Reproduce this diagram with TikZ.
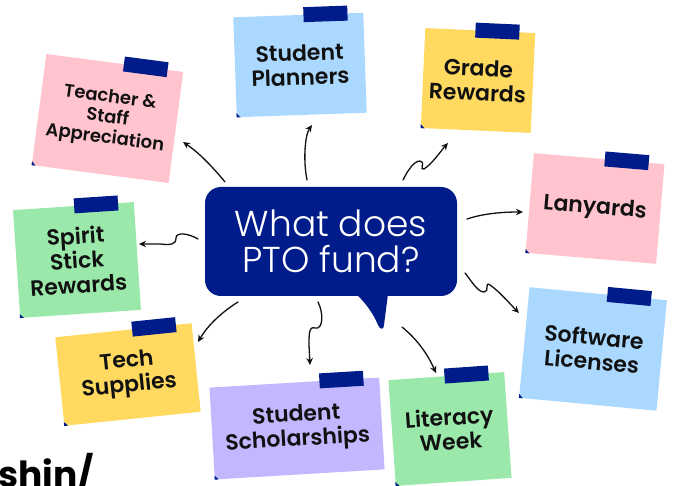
\documentclass[tikz,border=0pt]{standalone}
\usepackage{fontspec}
\setmainfont{Poppins}[UprightFont=* SemiBold, BoldFont=* Bold]
\newfontfamily\bubblefont{Poppins}[UprightFont=* Light]
\newfontfamily\heavyfont{Poppins}[UprightFont=* Bold]
\usetikzlibrary{calc,arrows.meta}
\definecolor{navy}{RGB}{0,28,138}
\definecolor{pinkN}{RGB}{255,196,206}
\definecolor{blueN}{RGB}{170,216,255}
\definecolor{yellowN}{RGB}{255,217,96}
\definecolor{greenN}{RGB}{154,233,170}
\definecolor{purpleN}{RGB}{195,183,255}
\definecolor{inkN}{RGB}{17,17,17}
\newcommand\notedecor[2]{%
  \node[tapebox, rotate=#2] (#1-tape) at ($(#1.north east)!38pt!(#1.north west)$) {};
  \fill[navy] (#1.south west) -- ($(#1.south west)!4pt!(#1.south east)$) -- ($(#1.south west)!4pt!(#1.north west)$) -- cycle;
}
\begin{document}
\begin{tikzpicture}[x=1pt,y=-1pt,
  note/.style={inner sep=0pt, align=center, text=inkN, font=\fontsize{22}{24.5}\selectfont},
  tapebox/.style={fill=navy, minimum width=44pt, minimum height=15pt, inner sep=0pt},
  arr/.style={-{Stealth[length=7pt,width=6.5pt]}, line width=1.3pt, line cap=round, draw=inkN}]
\useasboundingbox (0,0) rectangle (673,486);
\clip (0,0) rectangle (673,486);

% central bubble
\fill[navy] (356,294) .. controls (366,303) and (374,315) .. (378,325)
  .. controls (380,330) and (384,330) .. (384,325) -- (388,294) -- cycle;
\node[fill=navy, rounded corners=16pt, minimum width=252pt, minimum height=109pt,
  inner sep=0pt, text=white, align=center,
  font=\bubblefont\fontsize{36}{36}\selectfont] (bubble) at (331,241.5) {What does\\PTO fund?};

% notes
\node[note, fill=pinkN, minimum width=138pt, minimum height=112pt, rotate=-7.5,
  font=\fontsize{18}{20.5}\selectfont] (teacher) at (107.5,118.5) {Teacher \&\\Staff\\Appreciation};
\notedecor{teacher}{-7.5}
\node[note, fill=blueN, minimum width=130pt, minimum height=100pt, rotate=2] (planners) at (300,65) {Student\\Planners};
\notedecor{planners}{2}
\node[note, fill=yellowN, minimum width=110pt, minimum height=100pt, rotate=-2.6] (grade) at (478,80.5) {Grade\\Rewards};
\notedecor{grade}{-2.6}
\node[note, fill=pinkN, minimum width=131pt, minimum height=100pt, rotate=-4.8] (lanyards) at (595,208.5) {Lanyards};
\notedecor{lanyards}{-4.8}
\node[note, fill=blueN, minimum width=138pt, minimum height=111pt, rotate=-5.4] (software) at (593,349) {Software\\Licenses};
\notedecor{software}{-5.4}
\node[note, fill=greenN, minimum width=116pt, minimum height=106pt, rotate=4] (literacy) at (450,429) {Literacy\\Week};
\notedecor{literacy}{4}
\node[note, fill=purpleN, minimum width=170pt, minimum height=92pt, rotate=3.4] (scholar) at (297,428.5) {Student\\Scholarships};
\notedecor{scholar}{3.4}
\node[note, fill=yellowN, minimum width=137pt, minimum height=89pt, rotate=5.9] (tech) at (128,374.5) {Tech\\Supplies};
\notedecor{tech}{5.9}
\node[note, fill=greenN, minimum width=121pt, minimum height=108pt, rotate=3.8] (spirit) at (77,260) {Spirit\\Stick\\Rewards};
\notedecor{spirit}{3.8}

% arrow end points
\coordinate (s1) at (225,182); \coordinate (e1) at (183,142);
\coordinate (s2) at (307,180); \coordinate (e2) at (312,125);
\coordinate (s3) at (403,180); \coordinate (e3) at (448,143);
\coordinate (s4) at (467,219); \coordinate (e4) at (523,212);
\coordinate (s5) at (465,273); \coordinate (e5) at (519,313);
\coordinate (s6) at (402,327); \coordinate (e6) at (436,373);
\coordinate (s7) at (318,302); \coordinate (e7) at (310,365);
\coordinate (s8) at (238,302); \coordinate (e8) at (198,342);
\coordinate (s9) at (198,239); \coordinate (e9) at (139,244);

\draw[arr] (s1) .. controls (212,166) and (198,152) .. (e1);
\draw[arr] (s2) .. controls (303,160) and (305,135) .. (e2);
\draw[arr] (s3) .. controls (408,170) and (414,161) .. (420,161)
  .. controls (426,161) and (419,171) .. (424,169)
  .. controls (432,164) and (440,152) .. (e3);
\draw[arr] (s4) .. controls (485,213) and (505,212) .. (e4);
\draw[arr] (s5) .. controls (472,282) and (478,292) .. (484,292)
  .. controls (490,292) and (484,281) .. (490,285)
  .. controls (500,292) and (510,304) .. (e5);
\draw[arr] (s6) .. controls (418,340) and (428,355) .. (e6);
\draw[arr] (s7) .. controls (324,314) and (323,330) .. (315,328)
  .. controls (309,326) and (309,334) .. (309,345) -- (e7);
\draw[arr] (s8) .. controls (222,312) and (208,325) .. (e8);
\draw[arr] (s9) .. controls (188,233) and (176,232) .. (176,238)
  .. controls (176,245) and (170,245) .. (160,244) -- (e9);

% cropped text at lower left
\node[anchor=base west, inner sep=0pt, text=black, font=\heavyfont\fontsize{36}{36}\selectfont] (shin) at (-2,488) {shin/};
\end{tikzpicture}
\end{document}
